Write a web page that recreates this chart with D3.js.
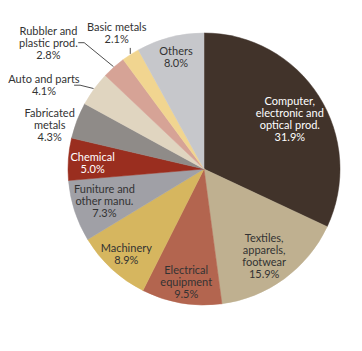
<!DOCTYPE html>
<html>
<head>
<meta charset="utf-8">
<script src="https://cdn.jsdelivr.net/npm/d3@7"></script>
<style>
  body { margin: 0; background: #fff; }
  svg { display: block; font-family: Lato, 'Open Sans', sans-serif; }
</style>
</head>
<body>
<div id="chart"></div>
<script>
'use strict';

// Industry shares (%), clockwise from 12 o'clock
const sectors = [
    'Computer, electronic and optical prod.',
    'Textiles, apparels, footwear',
    'Electrical equipment',
    'Machinery',
    'Funiture and other manu.',
    'Chemical',
    'Fabricated metals',
    'Auto and parts',
    'Rubbler and plastic prod.',
    'Basic metals',
    'Others'
];
const shares = [31.9, 15.9, 9.5, 8.9, 7.3, 5.0, 4.3, 4.1, 2.8, 2.1, 8.0];

// label text split into lines
const labelLines = [
    ['Computer,', 'electronic and', 'optical prod.'],
    ['Textiles,', 'apparels,', 'footwear'],
    ['Electrical', 'equipment'],
    ['Machinery'],
    ['Funiture and', 'other manu.'],
    ['Chemical'],
    ['Fabricated', 'metals'],
    ['Auto and parts'],
    ['Rubbler and', 'plastic prod.'],
    ['Basic metals'],
    ['Others']
];

const colors = ['#41332a', '#bfb090', '#b3654f', '#d6b65f', '#a0a0a6', '#9a2e1f',
                '#8f8b88', '#e0d5c0', '#d6a396', '#f1d590', '#c6c7cb'];

// label placement: radius as fraction of pie radius, angle offset in degrees
const labelPlace = [
    { r: 0.73, da: 2.3, fill: '#fff' },
    { r: 0.78, da: 1.7 },
    { r: 0.84, da: -0.6 },
    { r: 0.85, da: -0.5 },
    { r: 0.77, da: 0 },
    { r: 0.82, da: -1, fill: '#fff' },
    { r: 1.18, da: -5 },
    { r: 1.33, da: -8.3, leader: { elbowR: 1.10, tail: 6 } },
    { r: 1.47, da: -9.6, leader: { elbowR: 1.28, tail: 6 } },
    { r: 1.19, da: 0, leader: { vertical: 6 } },
    { r: 0.85, da: 0.4 }
];

const width = 362, height = 351;
const cx = 204, cy = 169, radius = 136;
const lineH = 12;
const fmt = d3.format('.1f');

const svg = d3.select('#chart').append('svg')
    .attr('width', width)
    .attr('height', height);

const g = svg.append('g')
    .attr('transform', `translate(${cx}, ${cy})`);

const data = sectors.map((s, i) => ({ sector: s, share: shares[i], i }));

const pie = d3.pie()
    .value(d => d.share)
    .sort(null);

const arc = d3.arc()
    .innerRadius(0)
    .outerRadius(radius);

const arcs = pie(data);

g.selectAll('path.slice')
    .data(arcs)
    .join('path')
    .classed('slice', true)
    .attr('d', arc)
    .attr('fill', d => colors[d.data.i])
    .attr('stroke', d => colors[d.data.i])
    .attr('stroke-width', 0.5);

// polar helper (angle in radians, 0 at top, clockwise)
const polar = (a, r) => [Math.sin(a) * r, -Math.cos(a) * r];
const midAngle = d => (d.startAngle + d.endAngle) / 2;

// Leader lines for the small slices
arcs.forEach(d => {
    const p = labelPlace[d.data.i];
    if (!p.leader) return;
    const a = midAngle(d);
    const start = polar(a, radius * 1.005);
    let pts;
    if (p.leader.vertical) {
        pts = [start, [start[0], start[1] - p.leader.vertical]];
    } else {
        const elbow = polar(a - 2 * Math.PI / 180, radius * p.leader.elbowR);
        pts = [start, elbow, [elbow[0] - p.leader.tail, elbow[1]]];
    }
    g.append('path')
        .attr('d', d3.line()(pts))
        .attr('fill', 'none')
        .attr('stroke', '#3a3a3a')
        .attr('stroke-width', 0.9);
});

// Labels
const labels = g.selectAll('text.label')
    .data(arcs)
    .join('text')
    .classed('label', true)
    .attr('text-anchor', 'middle')
    .attr('font-size', 11)
    .attr('fill', d => labelPlace[d.data.i].fill || '#333')
    .each(function (d) {
        const p = labelPlace[d.data.i];
        const a = midAngle(d) + p.da * Math.PI / 180;
        const [x, y] = polar(a, radius * p.r);
        const lines = labelLines[d.data.i].concat(fmt(d.data.share) + '%');
        const top = y - (lines.length - 1) * lineH / 2;
        d3.select(this).selectAll('tspan')
            .data(lines)
            .join('tspan')
            .attr('x', x)
            .attr('y', (l, k) => top + k * lineH)
            .attr('dy', '0.35em')
            .text(l => l);
    });
</script>
</body>
</html>
